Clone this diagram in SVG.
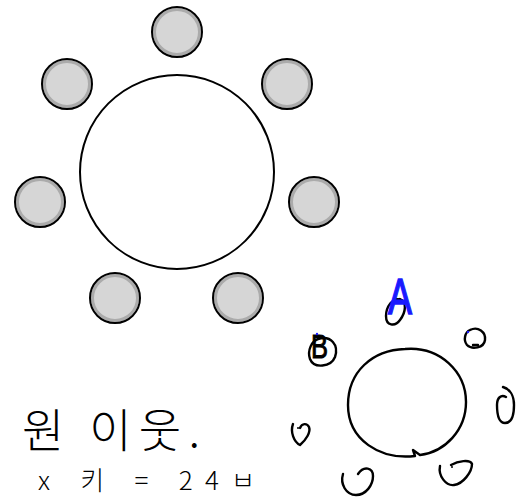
<svg xmlns="http://www.w3.org/2000/svg" width="521" height="503" viewBox="0 0 521 503">
<style>
.seat-o{fill:none;stroke:#000;stroke-width:2}
.seat-i{fill:#d6d6d6;stroke:#ababab;stroke-width:3}
.table{fill:#fff;stroke:#000;stroke-width:2}
.ink{fill:none;stroke:#000;stroke-width:2.4;stroke-linecap:round;stroke-linejoin:round}
.hand{font-family:"Noto Sans CJK KR","Noto Sans",sans-serif;font-weight:300;fill:#000}
</style>
<rect width="521" height="503" fill="#fff"/>
<g id="connectors"/>
<g id="table"><circle class="table" cx="177" cy="172" r="97"/></g>
<g id="seat-top"><circle class="seat-i" cx="177" cy="32" r="22.5"/><circle class="seat-o" cx="177" cy="32" r="25"/></g>
<g id="seat-upper-left"><circle class="seat-i" cx="67" cy="84" r="22.5"/><circle class="seat-o" cx="67" cy="84" r="25"/></g>
<g id="seat-upper-right"><circle class="seat-i" cx="287" cy="84" r="22.5"/><circle class="seat-o" cx="287" cy="84" r="25"/></g>
<g id="seat-left"><circle class="seat-i" cx="40" cy="202" r="22.5"/><circle class="seat-o" cx="40" cy="202" r="25"/></g>
<g id="seat-right"><circle class="seat-i" cx="314" cy="202" r="22.5"/><circle class="seat-o" cx="314" cy="202" r="25"/></g>
<g id="seat-lower-left"><circle class="seat-i" cx="115" cy="298" r="22.5"/><circle class="seat-o" cx="115" cy="298" r="25"/></g>
<g id="seat-lower-right"><circle class="seat-i" cx="238" cy="298" r="22.5"/><circle class="seat-o" cx="238" cy="298" r="25"/></g>
<g id="sketch">
<path class="ink" d="M 405,349 C 440,346 466,372 466,402 C 466,430 445,452 420,455 L 413,450 L 415,456 C 380,460 348,440 348,405 C 348,372 372,350 405,349 Z"/>
<path class="ink" d="M 402,300 C 392,296 386,308 386,316 C 386,326 395,327 400,320 C 406,312 407,302 400,299"/>
<text x="0" y="0" transform="translate(388,314) scale(0.72,1)" font-family="Liberation Sans,sans-serif" font-size="50" fill="#1a1aff" stroke="#1a1aff" stroke-width="1.5">A</text>
<path class="ink" d="M 318,339 C 331,335 339,345 335,357 C 331,367 314,369 310,359 C 307,350 312,341 318,339"/>
<text x="0" y="0" transform="translate(311,358) scale(0.75,1)" font-family="Liberation Sans,sans-serif" font-size="34" fill="#000" stroke="#000" stroke-width="1">B</text>
<circle cx="317" cy="334" r="1.2" fill="#1a1aff"/>
<path class="ink" d="M 470,330 C 478,326 486,332 485,340 C 484,348 472,350 467,345 C 463,340 465,332 470,330"/>
<path class="ink" d="M 473,345 L 478,345"/>
<circle cx="468" cy="332" r="1.2" fill="#1a1aff"/>
<path class="ink" d="M 503,387 C 510,389 514,396 514,405 C 514,415 512,423 505,423 C 499,423 497,414 497,405 C 497,398 501,394 506,397"/>
<path class="ink" d="M 293,424 C 290,432 294,442 300,445 C 306,440 311,432 309,427 C 307,423 302,423 300,428"/>
<circle cx="298" cy="428" r="1" fill="#000"/>
<path class="ink" d="M 343,474 C 340,484 346,495 356,495 C 366,495 373,485 373,476 C 373,468 364,465 358,474"/>
<path class="ink" d="M 440,466 C 438,476 446,486 454,485 C 463,484 472,472 472,464 C 470,459 458,461 451,465"/>
<circle cx="452" cy="467" r="1" fill="#000"/>
</g>
<g id="notes">
<text class="hand" x="22" y="447" font-size="46" textLength="178" lengthAdjust="spacing">원 이웃.</text>
<text class="hand" x="38" y="490" font-size="26" textLength="217" lengthAdjust="spacing">x 키 = 24ㅂ</text>
</g>
</svg>
